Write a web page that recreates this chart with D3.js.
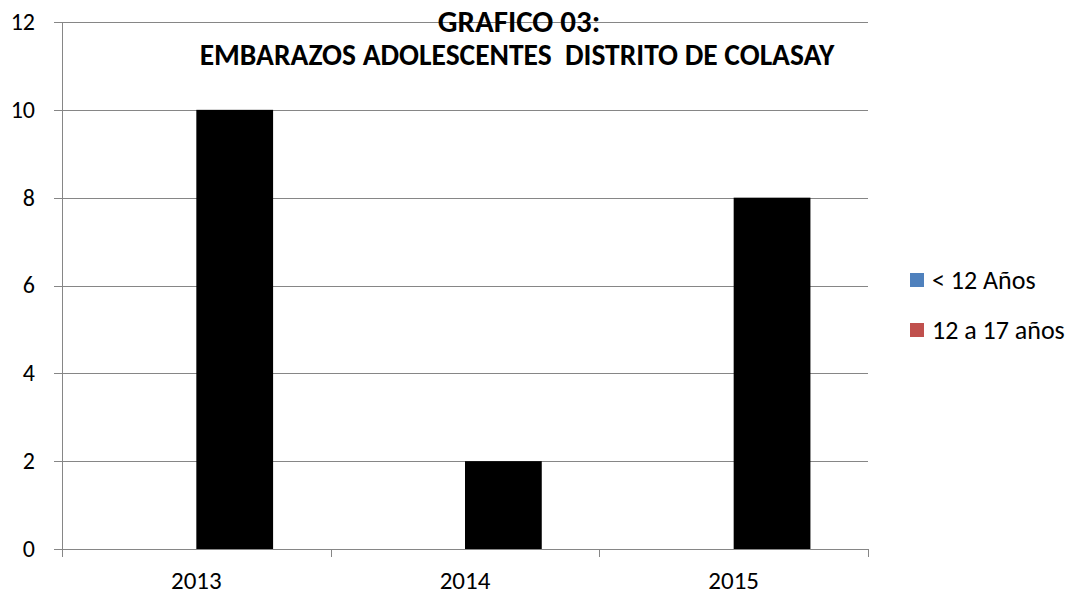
<!DOCTYPE html>
<html>
<head>
<meta charset="utf-8">
<script src="https://cdn.jsdelivr.net/npm/d3@7"></script>
<style>
body { margin: 0; background: #fff; }
svg text { font-family: Carlito, Calibri, "Open Sans", sans-serif; fill: #000; }
</style>
</head>
<body>
<svg id="chart" width="1069" height="596"></svg>
<script>
// data
var years = ['2013', '2014', '2015'];
var seriesNames = ['< 12 Años', '12 a 17 años'];
var menores12 = [0, 0, 0];
var de12a17 = [10, 2, 8];
var yTicks = [0, 2, 4, 6, 8, 10, 12];
var legendColors = ['#4F81BD', '#C0504D'];
var barColors = ['#4F81BD', '#000000'];

var svg = d3.select('#chart');
var margin = { left: 62, right: 201, top: 22, bottom: 47 };
var width = 1069 - margin.left - margin.right;
var height = 596 - margin.top - margin.bottom;

var g = svg.append('g').attr('transform', 'translate(' + margin.left + ',' + margin.top + ')');

var x = d3.scaleBand().domain(years).range([0, width]);
// excel gap width 150%
var barW = x.bandwidth() / 3.5;
var x1 = d3.scaleBand().domain(seriesNames).range([0, barW * 2]);
var y = d3.scaleLinear().domain([0, 12]).range([height, 0]);

// gridlines
g.append('g').selectAll('line').data(yTicks).enter().append('line')
	.attr('x1', -8).attr('x2', width)
	.attr('y1', function(d) { return Math.round(y(d)) + 0.5; })
	.attr('y2', function(d) { return Math.round(y(d)) + 0.5; })
	.attr('stroke', '#868686').attr('stroke-width', 1);

g.append('g').selectAll('text').data(yTicks).enter().append('text')
	.attr('x', -27).attr('y', function(d) { return y(d); })
	.attr('dy', '0.33em')
	.attr('text-anchor', 'end')
	.style('font-size', '24px')
	.text(function(d) { return d; });

// bars
var rows = years.map(function(yr, i) { return { year: yr, vals: [menores12[i], de12a17[i]] }; });
var grp = g.selectAll('.grp').data(rows).enter().append('g')
	.attr('transform', function(d) { return 'translate(' + (x(d.year) + x.bandwidth() / 2 - barW) + ',0)'; });
grp.selectAll('rect').data(function(d) { return d.vals; }).enter().append('rect')
	.attr('x', function(d, i) { return x1(seriesNames[i]); })
	.attr('width', barW)
	.attr('y', function(d) { return y(d); })
	.attr('height', function(d) { return height - y(d); })
	.attr('fill', function(d, i) { return barColors[i]; });

// axes lines
g.append('line').attr('x1', 0.5).attr('x2', 0.5).attr('y1', 0).attr('y2', height + 8)
	.attr('stroke', '#868686');
g.append('line').attr('x1', 0).attr('x2', width).attr('y1', Math.round(height) + 0.5).attr('y2', Math.round(height) + 0.5)
	.attr('stroke', '#868686');
var xb = years.map(function(d) { return x(d) + x.bandwidth(); });
g.append('g').selectAll('line').data(xb).enter().append('line')
	.attr('x1', function(d) { return Math.round(d) + 0.5; })
	.attr('x2', function(d) { return Math.round(d) + 0.5; })
	.attr('y1', height).attr('y2', height + 8)
	.attr('stroke', '#868686');

g.append('g').selectAll('text').data(years).enter().append('text')
	.attr('x', function(d) { return x(d) + x.bandwidth() / 2; })
	.attr('y', height + 40)
	.attr('text-anchor', 'middle')
	.style('font-size', '25px')
	.text(function(d) { return d; });

// title
var title = svg.append('g');
title.append('text').attr('x', 519).attr('y', 32).attr('text-anchor', 'middle')
	.style('font-size', '31px').style('font-weight', 'bold')
	.text('GRAFICO 03:');
title.append('text').attr('x', 517).attr('y', 65).attr('text-anchor', 'middle')
	.style('font-size', '29.5px').style('font-weight', 'bold')
	.attr('xml:space', 'preserve')
	.text('EMBARAZOS ADOLESCENTES  DISTRITO DE COLASAY');

// legend
var leg = svg.append('g').attr('transform', 'translate(910,273)');
var li = leg.selectAll('g').data(seriesNames).enter().append('g')
	.attr('transform', function(d, i) { return 'translate(0,' + (i * 50) + ')'; });
li.append('rect').attr('width', 14).attr('height', 14)
	.attr('fill', function(d, i) { return legendColors[i]; });
li.append('text').attr('x', 22).attr('y', 7).attr('dy', '0.35em')
	.style('font-size', '26px')
	.text(function(d) { return d; });
</script>
</body>
</html>
